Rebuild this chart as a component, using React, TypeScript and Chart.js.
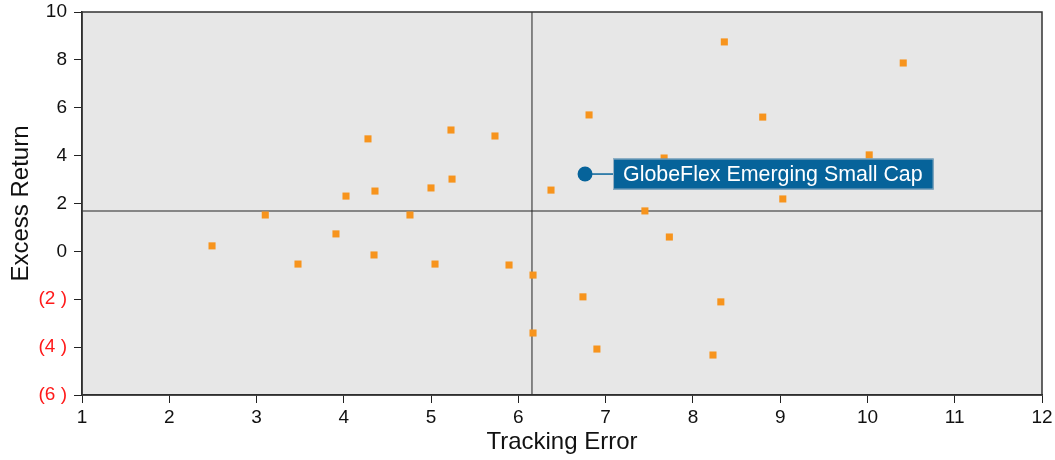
import React, { useEffect, useRef } from 'react';
import { Chart, registerables } from 'chart.js';

Chart.register(...registerables);

// Peer universe: tracking error (x) vs excess return (y)
const trackingError = [2.49, 3.10, 3.475, 3.91, 4.025, 4.277, 4.346, 4.357, 4.758, 4.999, 5.045, 5.24, 5.228, 5.732, 5.893, 6.168, 6.168, 6.374, 6.74, 6.81, 6.90, 7.45, 7.67, 7.73, 8.32, 8.23, 8.36, 8.80, 9.03, 10.02, 10.41];
const excessReturn = [0.23, 1.52, -0.53, 0.73, 2.31, 4.70, -0.15, 2.52, 1.52, 2.65, -0.53, 3.02, 5.07, 4.82, -0.57, -0.99, -3.41, 2.56, -1.90, 5.70, -4.08, 1.69, 3.90, 0.60, -2.11, -4.33, 8.75, 5.61, 2.19, 4.03, 7.87];

// Highlighted manager
const highlightName = 'GlobeFlex Emerging Small Cap';
const highlightX = [6.764];
const highlightY = [3.23];

// Reference (median) lines
const medianTrackingError = 6.156;
const medianExcessReturn = 1.69;

// Axis ticks
const xTicks = [1, 2, 3, 4, 5, 6, 7, 8, 9, 10, 11, 12];
const yTicks = [-6, -4, -2, 0, 2, 4, 6, 8, 10];
const yTickLabels = ['(6 )', '(4 )', '(2 )', '0', '2', '4', '6', '8', '10'];

const FONT = "'Liberation Sans', Arial, sans-serif";

const overlayPlugin = {
  id: 'overlay',
  beforeDraw(chart: any) {
    const { ctx, chartArea: a } = chart;
    ctx.save();
    ctx.fillStyle = '#e7e7e7';
    ctx.fillRect(a.left, a.top, a.right - a.left, a.bottom - a.top);
    ctx.restore();
  },
  beforeDatasetsDraw(chart: any) {
    const { ctx, chartArea: a, scales } = chart;
    const x = scales.x.getPixelForValue(medianTrackingError);
    const y = scales.y.getPixelForValue(medianExcessReturn);
    ctx.save();
    ctx.strokeStyle = '#666';
    ctx.lineWidth = 1.5;
    ctx.beginPath();
    ctx.moveTo(a.left, y);
    ctx.lineTo(a.right, y);
    ctx.stroke();
    ctx.strokeStyle = '#222';
    ctx.lineWidth = 1;
    ctx.beginPath();
    ctx.moveTo(x, a.top);
    ctx.lineTo(x, a.bottom);
    ctx.stroke();
    ctx.restore();
  },
  afterDatasetsDraw(chart: any) {
    const { ctx, chartArea: a, scales } = chart;
    ctx.save();
    // plot frame
    ctx.strokeStyle = '#333';
    ctx.lineWidth = 1.5;
    ctx.strokeRect(a.left, a.top, a.right - a.left, a.bottom - a.top);
    // highlighted label
    const px = scales.x.getPixelForValue(highlightX[0]);
    const py = scales.y.getPixelForValue(highlightY[0]);
    ctx.font = `21.4px ${FONT}`;
    const tw = ctx.measureText(highlightName).width;
    const bx = px + 28;
    const bh = 31;
    const bw = tw + 21;
    const by = py - bh / 2;
    ctx.strokeStyle = '#06639a';
    ctx.lineWidth = 1.5;
    ctx.beginPath();
    ctx.moveTo(px + 7, py);
    ctx.lineTo(bx, py);
    ctx.stroke();
    ctx.fillStyle = '#06639a';
    ctx.fillRect(bx, by, bw, bh);
    ctx.strokeStyle = '#9bb3c4';
    ctx.lineWidth = 1;
    ctx.strokeRect(bx + 0.5, by + 0.5, bw - 1, bh - 1);
    ctx.fillStyle = '#ffffff';
    ctx.textBaseline = 'middle';
    ctx.textAlign = 'left';
    ctx.fillText(highlightName, bx + 10, py + 1);
    ctx.restore();
  },
};

export default function App() {
  const ref = useRef<HTMLCanvasElement>(null);
  useEffect(() => {
    if (!ref.current) return;
    const chart = new Chart(ref.current, {
      type: 'scatter',
      data: {
        datasets: [
          {
            label: 'Peers',
            data: trackingError.map((x, i) => ({ x, y: excessReturn[i] })),
            pointStyle: 'rect',
            pointRadius: 5,
            pointHoverRadius: 5,
            backgroundColor: '#f7941d',
            borderWidth: 0,
          },
          {
            label: highlightName,
            data: highlightX.map((x, i) => ({ x, y: highlightY[i] })),
            pointStyle: 'circle',
            pointRadius: 7.5,
            pointHoverRadius: 7.5,
            backgroundColor: '#06639a',
            borderWidth: 0,
          },
        ],
      },
      options: {
        responsive: false,
        animation: false,
        events: [],
        layout: { padding: { top: 12, right: 13, left: 0, bottom: 0 } },
        plugins: { legend: { display: false }, tooltip: { enabled: false } },
        scales: {
          x: {
            type: 'linear',
            min: 1,
            max: 12,
            afterFit: (s: any) => { s.height = 65; s.paddingLeft = 0; s.paddingRight = 0; },
            afterBuildTicks: (s: any) => { s.ticks = xTicks.map((v) => ({ value: v })); },
            ticks: {
              font: { family: FONT, size: 19 },
              color: '#111',
              padding: 3,
              maxRotation: 0,
              callback: (v: any) => String(v),
            },
            grid: { display: true, drawOnChartArea: false, drawTicks: true, tickLength: 8, color: '#222', lineWidth: 1 },
            border: { display: true, color: '#222', width: 1.5 },
            title: {
              display: true,
              text: 'Tracking Error',
              font: { family: FONT, size: 24 },
              color: '#111',
              padding: { top: 0, bottom: 3 },
            },
          },
          y: {
            type: 'linear',
            min: -6,
            max: 10,
            afterFit: (s: any) => { s.width = 82; s.paddingTop = 0; s.paddingBottom = 0; },
            afterBuildTicks: (s: any) => { s.ticks = yTicks.map((v) => ({ value: v })); },
            ticks: {
              font: { family: FONT, size: 19 },
              color: (c: any) => (c.tick && c.tick.value < 0 ? '#ff1a1a' : '#111'),
              padding: 7,
              callback: (v: any) => {
                const i = yTicks.indexOf(Number(v));
                return i >= 0 ? yTickLabels[i] : String(v);
              },
            },
            grid: { display: true, drawOnChartArea: false, drawTicks: true, tickLength: 8, color: '#222', lineWidth: 1 },
            border: { display: true, color: '#222', width: 1.5 },
            title: {
              display: true,
              text: 'Excess Return',
              font: { family: FONT, size: 24 },
              color: '#111',
              padding: { top: 7, bottom: 0 },
            },
          },
        },
      },
      plugins: [overlayPlugin],
    });
    return () => chart.destroy();
  }, []);
  return (
    <div style={{ position: 'fixed', left: 0, top: 0, width: 1055, height: 460, background: '#fff' }}>
      <canvas ref={ref} width={1055} height={460} style={{ display: 'block' }} />
    </div>
  );
}
